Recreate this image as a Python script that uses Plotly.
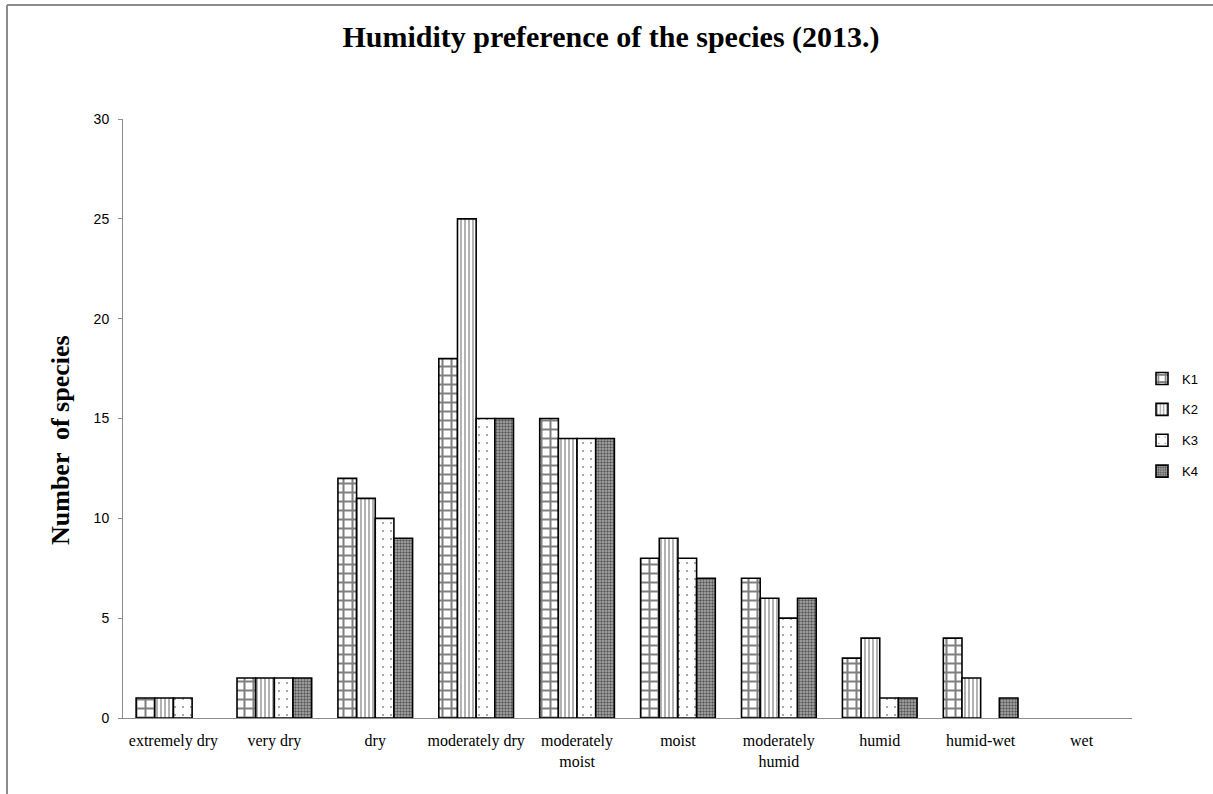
import plotly.graph_objects as go

# Humidity classes and species counts per site (2013)
categories = ["extremely dry", "very dry", "dry", "moderately dry",
              "moderately<br>moist", "moist", "moderately<br>humid",
              "humid", "humid-wet", "wet"]
k1 = [1, 2, 12, 18, 15, 8, 7, 3, 4, 0]
k2 = [1, 2, 11, 25, 14, 9, 6, 4, 2, 0]
k3 = [1, 2, 10, 15, 14, 8, 5, 1, 0, 0]
k4 = [0, 2, 9, 15, 14, 7, 6, 1, 1, 0]
series_names = ["K1", "K2", "K3", "K4"]
y_ticks = [0, 5, 10, 15, 20, 25, 30]

patterns = [
    dict(shape="+", size=9, solidity=0.4, fgcolor="black", bgcolor="white", fillmode="overlay"),
    dict(shape="|", size=4, solidity=0.3, fgcolor="black", bgcolor="white", fillmode="overlay"),
    dict(shape=".", size=8, solidity=0.04, fgcolor="black", bgcolor="white", fillmode="overlay"),
    dict(shape=".", size=3, solidity=0.5, fgcolor="black", bgcolor="#b0b0b0", fillmode="overlay"),
]

fig = go.Figure()
for i, (name, vals) in enumerate(zip(series_names, [k1, k2, k3, k4])):
    # zero counts are left empty so no outline is drawn on the baseline
    shown = [v if v else None for v in vals]
    fig.add_trace(go.Bar(
        x=categories, y=shown, name=name, legendgroup=name,
        marker=dict(color="white", pattern=patterns[i],
                    line=dict(color="black", width=1.6)),
    ))

W, H = 1213, 794
L, R, T, B = 123, 81, 119, 76
PW, PH = W - L - R, H - T - B


def px_x(x):
    return (x - L) / PW


def px_y(y):
    return (H - B - y) / PH


fig.update_layout(
    width=W, height=H,
    margin=dict(l=L, r=R, t=T, b=B, autoexpand=False),
    paper_bgcolor="white", plot_bgcolor="white",
    barmode="group", bargap=0.26, bargroupgap=0,
    title=dict(text="<b>Humidity preference of the species (2013.)</b>",
               x=611 / W, xref="container", xanchor="center",
               y=1 - 36 / H, yref="container", yanchor="middle",
               font=dict(family="Liberation Serif", size=30, color="black")),
    legend=dict(x=px_x(1142), xanchor="left", y=px_y(425), yanchor="middle",
                tracegroupgap=11, traceorder="grouped",
                font=dict(family="Liberation Sans", size=13, color="black"),
                bgcolor="rgba(0,0,0,0)"),
    xaxis=dict(showline=True, linecolor="#8c8c8c", linewidth=1,
               ticks="", showgrid=False, ticklabelstandoff=8,
               tickfont=dict(family="Liberation Serif", size=16, color="black")),
    yaxis=dict(range=[0, 30], tickvals=y_ticks, showline=True,
               linecolor="#8c8c8c", linewidth=1, ticks="outside", ticklen=4,
               tickcolor="#8c8c8c", showgrid=False, zeroline=False,
               ticklabelstandoff=6,
               tickfont=dict(family="Liberation Sans", size=14, color="black")),
    showlegend=True,
)

# Y-axis title
fig.add_annotation(text="<b>Number  of species</b>", xref="paper", yref="paper",
                   x=px_x(60), y=px_y(440), textangle=-90, showarrow=False,
                   xanchor="center", yanchor="middle",
                   font=dict(family="Liberation Serif", size=26, color="black"))

# Outer frame (top and left edges)
fx, fy = px_x(7), px_y(5)
fig.add_shape(type="line", xref="paper", yref="paper",
              x0=fx, x1=px_x(W + 5), y0=fy, y1=fy,
              line=dict(color="#8c8c8c", width=2))
fig.add_shape(type="line", xref="paper", yref="paper",
              x0=fx, x1=fx, y0=px_y(H + 5), y1=fy,
              line=dict(color="#8c8c8c", width=2))

fig.write_html("out.html")
